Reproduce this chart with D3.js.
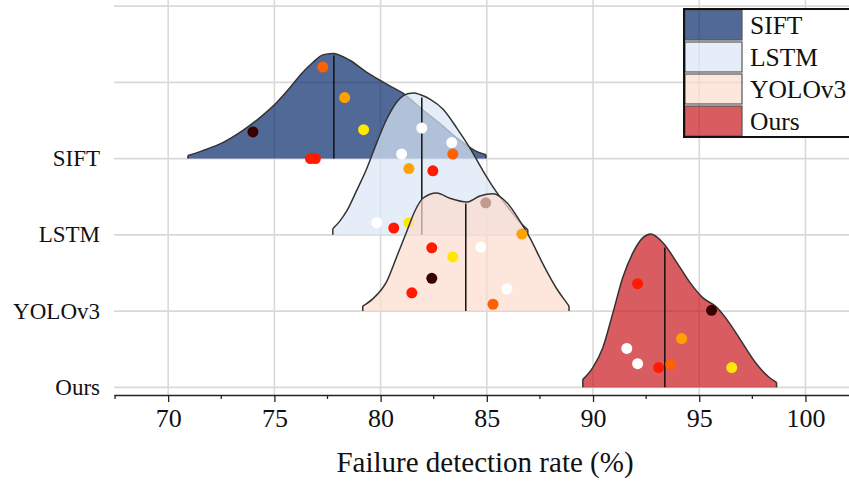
<!DOCTYPE html>
<html>
<head>
<meta charset="utf-8">
<script src="https://cdn.jsdelivr.net/npm/d3@7"></script>
<style>
  html, body { margin: 0; padding: 0; background: #fff; }
  svg { display: block; }
  text { font-family: "Liberation Serif", "Times New Roman", serif; fill: #111; }
</style>
</head>
<body>
<svg id="chart" width="849" height="481"></svg>
<script>
// ---------------- data ----------------
const categories = ["Ours", "YOLOv3", "LSTM", "SIFT"];          // bottom -> top rows (0..3)
const drawOrder = ["SIFT", "LSTM", "YOLOv3", "Ours"];
const xTicks = [70, 75, 80, 85, 90, 95, 100];
const xMinorTicks = [67.5, 72.5, 77.5, 82.5, 87.5, 92.5, 97.5];
const yGrid = [0, 1, 2, 3, 4, 5];
const fillColors = ["#06296a", "#dae7f5", "#fcdbcd", "#c9171c"];  // SIFT, LSTM, YOLOv3, Ours
const pointColors = ["#3a0000", "#ff1a00", "#ff6000", "#ffa200", "#ffe800", "#ffffff"];

// density profiles (x value, height in row units)
const siftDensX = [70.93, 71.63, 72.57, 73.52, 74.46, 75.12, 75.73, 76.33, 76.81, 77.28, 77.75, 78.55, 79.35, 79.96, 80.58, 81.05, 81.85, 82.79, 83.73, 84.44, 84.96];
const siftDensH = [0.04, 0.105, 0.21, 0.37, 0.57, 0.74, 0.93, 1.13, 1.26, 1.36, 1.38, 1.29, 1.13, 1.03, 0.93, 0.86, 0.67, 0.46, 0.24, 0.105, 0.05];
const lstmDensX = [77.75, 78.08, 78.4, 78.87, 79.35, 79.82, 80.29, 80.81, 81.28, 81.57, 81.85, 82.32, 82.93, 83.59, 84.2, 84.82, 85.29, 86.08, 86.55, 86.93];
const lstmDensH = [0.08, 0.18, 0.31, 0.58, 0.87, 1.21, 1.52, 1.76, 1.85, 1.86, 1.84, 1.78, 1.65, 1.4, 1.14, 0.84, 0.63, 0.33, 0.17, 0.066];
const yoloDensX = [79.16, 79.63, 80.29, 80.81, 81.24, 81.61, 81.99, 82.64, 83.26, 84.06, 84.67, 85.29, 85.95, 86.56, 87.03, 87.64, 88.3, 88.77, 88.87];
const yoloDensH = [0.066, 0.16, 0.39, 0.75, 1.05, 1.31, 1.48, 1.55, 1.48, 1.43, 1.51, 1.54, 1.42, 1.18, 0.96, 0.62, 0.29, 0.105, 0.066];
const oursDensX = [89.52, 89.99, 90.46, 90.93, 91.4, 91.87, 92.34, 92.72, 93.28, 93.94, 94.55, 95.15, 95.82, 96.43, 97.04, 97.69, 98.3, 98.64];
const oursDensH = [0.105, 0.26, 0.52, 0.97, 1.44, 1.76, 1.96, 2.01, 1.9, 1.64, 1.38, 1.18, 1.05, 0.84, 0.58, 0.31, 0.13, 0.066];

const medians = [77.8, 81.94, 84.01, 93.38];   // SIFT, LSTM, YOLOv3, Ours

// scattered samples: x value, offset above row baseline, colour index
const siftPtsX = [73.99, 77.28, 78.31, 79.2, 76.7, 76.93];
const siftPtsY = [0.35, 1.2, 0.8, 0.38, 0.0, 0.0];
const siftPtsC = [0, 2, 3, 4, 1, 1];
const lstmPtsX = [81.94, 83.35, 80.99, 83.4, 81.33, 82.46, 79.82, 80.62, 81.33, 84.95];
const lstmPtsY = [1.4, 1.21, 1.06, 1.06, 0.87, 0.84, 0.16, 0.09, 0.16, 0.42];
const lstmPtsC = [5, 5, 5, 2, 3, 1, 5, 1, 4, 0];
const yoloPtsX = [82.41, 83.4, 82.41, 81.47, 84.72, 85.94, 85.29, 86.65];
const yoloPtsY = [0.83, 0.71, 0.43, 0.24, 0.84, 0.29, 0.09, 1.01];
const yoloPtsC = [1, 4, 0, 1, 5, 5, 2, 3];
const oursPtsX = [92.1, 95.58, 94.17, 91.59, 92.1, 93.09, 93.66, 96.53];
const oursPtsY = [1.36, 1.01, 0.64, 0.51, 0.31, 0.26, 0.3, 0.26];
const oursPtsC = [1, 0, 3, 5, 5, 1, 2, 4];

// --------------- build ----------------
const densX = [siftDensX, lstmDensX, yoloDensX, oursDensX];
const densH = [siftDensH, lstmDensH, yoloDensH, oursDensH];
const ptsX = [siftPtsX, lstmPtsX, yoloPtsX, oursPtsX];
const ptsY = [siftPtsY, lstmPtsY, yoloPtsY, oursPtsY];
const ptsC = [siftPtsC, lstmPtsC, yoloPtsC, oursPtsC];

const svg = d3.select("#chart");
const x = d3.scaleLinear().domain([67.45, 102.05]).range([114, 849]);
const y = d3.scaleLinear().domain([-0.1, 5.08]).range([395, 0]);

// grid
const grid = svg.append("g");
grid.selectAll("line.v").data(xTicks).join("line")
  .attr("x1", d => x(d)).attr("x2", d => x(d))
  .attr("y1", 0).attr("y2", y(-0.1))
  .attr("stroke", "#d9d9d9").attr("stroke-width", 1.6);
grid.selectAll("line.h").data(yGrid).join("line")
  .attr("x1", 114).attr("x2", 849)
  .attr("y1", d => y(d)).attr("y2", d => y(d))
  .attr("stroke", "#d9d9d9").attr("stroke-width", 1.6);

// ridges
drawOrder.forEach((name, i) => {
  const row = categories.indexOf(name);
  const data = densX[i].map((v, k) => ({ v, h: densH[i][k] }));
  const g = svg.append("g");
  const area = d3.area().x(d => x(d.v)).y0(y(row)).y1(d => y(row + d.h)).curve(d3.curveMonotoneX);
  g.append("path").attr("d", area(data))
    .attr("fill", fillColors[i]).attr("fill-opacity", 0.7).attr("stroke", "none");
  const line = d3.line().x(d => x(d.v)).y(d => y(row + d.h)).curve(d3.curveMonotoneX);
  g.append("path").attr("d", line(data))
    .attr("fill", "none").attr("stroke", "#333").attr("stroke-width", 1.5);
  [data[0], data[data.length - 1]].forEach(d => {
    g.append("line").attr("x1", x(d.v)).attr("x2", x(d.v))
      .attr("y1", y(row)).attr("y2", y(row + d.h))
      .attr("stroke", "#333").attr("stroke-width", 1.5);
  });
  // median
  const mh = d3.scaleLinear().domain(densX[i]).range(densH[i])(medians[i]);
  g.append("line").attr("x1", x(medians[i])).attr("x2", x(medians[i]))
    .attr("y1", y(row)).attr("y2", y(row + mh * 0.985))
    .attr("stroke", "#111").attr("stroke-width", 1.5);
  // points
  g.selectAll("circle").data(ptsX[i]).join("circle")
    .attr("cx", d => x(d))
    .attr("cy", (d, k) => y(row + ptsY[i][k]))
    .attr("r", 5.5)
    .attr("fill", (d, k) => pointColors[ptsC[i][k]]);
});

// x axis
const axis = svg.append("g").attr("transform", `translate(0,${y(-0.1)})`)
  .call(d3.axisBottom(x).tickValues(xTicks).tickSize(7).tickSizeOuter(0).tickFormat(d3.format("d")));
axis.select(".domain").attr("stroke", "#222").attr("stroke-width", 1.5);
axis.selectAll(".tick line").attr("stroke", "#222").attr("stroke-width", 1.3);
axis.selectAll(".tick text").attr("y", 32).attr("dy", 0)
  .style("font-family", "'Liberation Serif', 'Times New Roman', serif")
  .style("font-size", "26px").attr("fill", "#111");
axis.selectAll("line.minor").data(xMinorTicks).join("line").attr("class", "minor")
  .attr("x1", d => x(d)).attr("x2", d => x(d)).attr("y1", 0).attr("y2", 4)
  .attr("stroke", "#222").attr("stroke-width", 1.3);

svg.append("text").attr("x", 485).attr("y", 472).attr("text-anchor", "middle")
  .style("font-size", "29px").text("Failure detection rate (%)");

// category labels
svg.selectAll("text.cat").data(categories).join("text").attr("class", "cat")
  .attr("x", 100).attr("y", (d, k) => y(k) + 7.5).attr("text-anchor", "end")
  .style("font-size", "23px").text(d => d);

// legend
const lg = svg.append("g");
lg.append("rect").attr("x", 743).attr("y", 9).attr("width", 110).attr("height", 128).attr("fill", "#fff");
drawOrder.forEach((name, i) => {
  const top = 9 + i * 32;
  lg.append("rect").attr("x", 685).attr("y", top + 1).attr("width", 57).attr("height", 30)
    .attr("fill", fillColors[i]).attr("fill-opacity", 0.7)
    .attr("stroke", "#555").attr("stroke-width", 1.2);
  lg.append("text").attr("x", 750).attr("y", top + 24.5)
    .style("font-size", "25.5px").text(name);
});
lg.append("rect").attr("x", 684).attr("y", 9).attr("width", 170).attr("height", 128)
  .attr("fill", "none").attr("stroke", "#111").attr("stroke-width", 2);
</script>
</body>
</html>
